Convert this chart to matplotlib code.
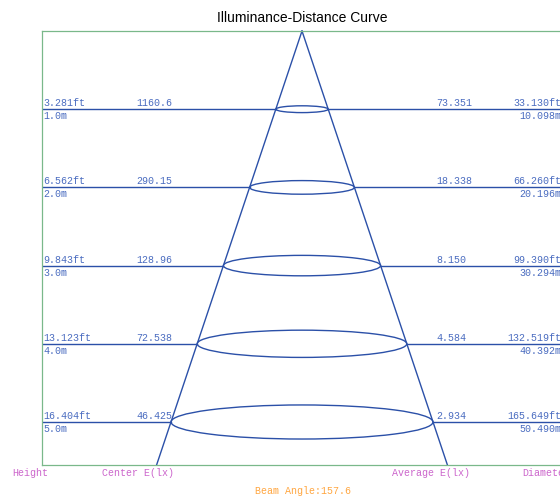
import matplotlib
matplotlib.use("Agg")
import matplotlib.pyplot as plt
from matplotlib.patches import Ellipse

# illuminance-distance data
height_m = [1.0, 2.0, 3.0, 4.0, 5.0]
height_ft = [3.281, 6.562, 9.843, 13.123, 16.404]
center_e = [1160.6, 290.15, 128.96, 72.538, 46.425]
average_e = [73.351, 18.338, 8.150, 4.584, 2.934]
diameter_m = [10.098, 20.196, 30.294, 40.392, 50.490]
diameter_ft = [33.130, 66.260, 99.390, 132.519, 165.649]
beam_angle = 157.6

LINE = "#2b50a8"
TXT = "#4a6cc0"
FRAME = "#7ab88a"
PURPLE = "#cc66cc"
ORANGE = "#ffa640"
MONO = "Liberation Mono"
FS = 7.2

W, H = 560, 498
fig = plt.figure(figsize=(W / 100, H / 100), dpi=100)
# right side of the frame runs just past the image edge, like the original
ax = fig.add_axes([42 / W, 1 - 465 / H, 520 / W, 434 / H])

xmax = 50.1
ymax = 5.55
ax.set_xlim(-xmax, xmax)
ax.set_ylim(ymax, 0)
ax.set_xticks([])
ax.set_yticks([])
for s in ax.spines.values():
    s.set_color(FRAME)
    s.set_linewidth(0.9)

# ellipse height / width ratio in pixels -> data units
px_x = 520 / (2 * xmax)
px_y = 434 / ymax
flat = 0.13 * px_x / px_y

# cone sides from apex down to the bottom frame
slope = diameter_m[-1] / 2 / height_m[-1]
ax.plot([0, -slope * ymax], [0, ymax], color=LINE, lw=1.0, clip_on=False)
ax.plot([0, slope * ymax], [0, ymax], color=LINE, lw=1.0, clip_on=False)

for i, h in enumerate(height_m):
    d = diameter_m[i]
    r = d / 2
    ax.add_patch(Ellipse((0, h), d, flat * d, fill=False, ec=LINE, lw=1.0))
    ax.plot([-xmax, -r], [h, h], color=LINE, lw=1.0)
    ax.plot([r, xmax], [h, h], color=LINE, lw=1.0)

    kw = dict(fontsize=FS, family=MONO, color=TXT, textcoords="offset pixels")
    ax.annotate(f"{height_ft[i]:.3f}ft", (-xmax, h), xytext=(1, 1), va="bottom", ha="left", **kw)
    ax.annotate(f"{h:.1f}m", (-xmax, h), xytext=(1, -2), va="top", ha="left", **kw)
    ax.annotate(f"{center_e[i]:.5g}", (-xmax, h), xytext=(94, 1), va="bottom", ha="left", **kw)
    ax.annotate(f"{average_e[i]:.3f}", (max(r, 0), h), xytext=(max(436 - 302 - r * px_x, 2), 1),
                va="bottom", ha="left", **kw)
    ax.annotate(f"{diameter_ft[i]:.3f}ft", (xmax, h), xytext=(-1, 1), va="bottom", ha="right", **kw)
    ax.annotate(f"{diameter_m[i]:.3f}m", (xmax, h), xytext=(-1, -2), va="top", ha="right", **kw)

# column headers under the frame
for label, xp in [("Height", 12), ("Center E(lx)", 102), ("Average E(lx)", 392), ("Diameter", 522)]:
    fig.text(xp / W, 1 - 473 / H, label, fontsize=FS, family=MONO, color=PURPLE, ha="left", va="center")
fig.text(303 / W, 1 - 491 / H, f"Beam Angle:{beam_angle}", fontsize=FS, family=MONO,
         color=ORANGE, ha="center", va="center")

fig.text(302 / W, 1 - 18 / H, "Illuminance-Distance Curve", fontsize=10,
         family="Liberation Sans", ha="center", va="center")

fig.savefig("out.png", dpi=100)
